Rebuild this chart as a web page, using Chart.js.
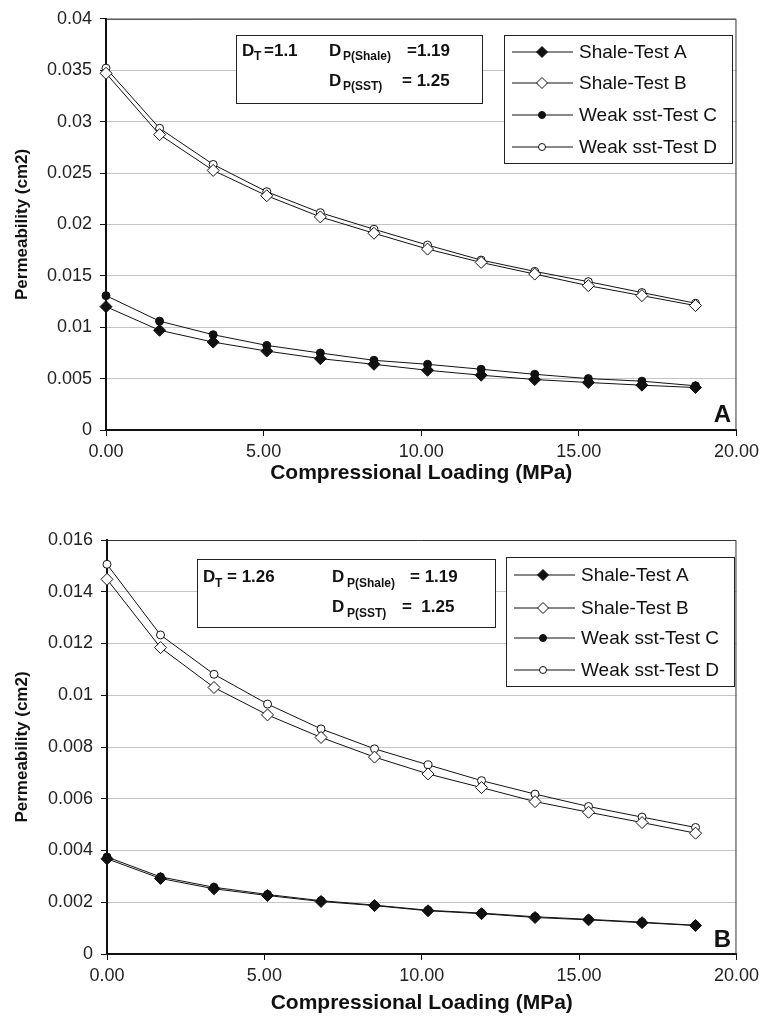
<!DOCTYPE html>
<html>
<head>
<meta charset="utf-8">
<script src="https://cdn.jsdelivr.net/npm/chart.js@4.4.1/dist/chart.umd.min.js"></script>
<style>
  html, body { margin: 0; padding: 0; background: #fff; }
  .panel { position: relative; width: 764px; height: 510px; }
</style>
</head>
<body>
<div class="panel"><canvas id="chartA" width="764" height="510"></canvas></div>
<div class="panel"><canvas id="chartB" width="764" height="510"></canvas></div>
<script>
// compressional loading (MPa), shared by both panels
const loading = [0, 1.7, 3.4, 5.1, 6.8, 8.5, 10.2, 11.9, 13.6, 15.3, 17.0, 18.7];
const seriesNames = ["Shale-Test A", "Shale-Test B", "Weak sst-Test C", "Weak sst-Test D"];

// panel A permeability (cm2)
const panelA_testA = [0.0120, 0.0097, 0.00855, 0.00768, 0.00694, 0.00639, 0.00581, 0.00533, 0.00491, 0.00462, 0.00436, 0.00413];
const panelA_testB = [0.0347, 0.02873, 0.02525, 0.02279, 0.02073, 0.01914, 0.0176, 0.0163, 0.01517, 0.01404, 0.01307, 0.0121];
const panelA_testC = [0.01307, 0.01059, 0.00927, 0.00823, 0.00749, 0.00678, 0.00639, 0.00591, 0.00542, 0.0050, 0.00475, 0.0043];
const panelA_testD = [0.0352, 0.02935, 0.02583, 0.02318, 0.02114, 0.01953, 0.01799, 0.01653, 0.01543, 0.01443, 0.01337, 0.01233];

// panel B permeability (cm2)
const panelB_testA = [0.00368, 0.00292, 0.00252, 0.00226, 0.00203, 0.00187, 0.00167, 0.00156, 0.00141, 0.00132, 0.00121, 0.0011];
const panelB_testB = [0.01448, 0.01184, 0.0103, 0.00924, 0.00837, 0.00761, 0.00696, 0.00643, 0.00589, 0.00548, 0.00508, 0.00467];
const panelB_testC = [0.00375, 0.00298, 0.00258, 0.0023, 0.00206, 0.00189, 0.00169, 0.00158, 0.00144, 0.00134, 0.00123, 0.00111];
const panelB_testD = [0.01506, 0.01233, 0.01081, 0.00966, 0.0087, 0.00793, 0.00731, 0.0067, 0.00618, 0.0057, 0.00529, 0.00489];

const xTicks = [0, 5, 10, 15, 20];

Chart.defaults.font.family = '"Liberation Sans", Arial, Helvetica, sans-serif';
Chart.defaults.color = "#222";

const FONT = '"Liberation Sans", Arial, Helvetica, sans-serif';

const markerStyles = [
  { pointStyle: "rectRot", fill: "#111", radius: 6, legendRadius: 5.5 },
  { pointStyle: "rectRot", fill: "#fff", radius: 6, legendRadius: 5.5 },
  { pointStyle: "circle", fill: "#111", radius: 4, legendRadius: 3.5 },
  { pointStyle: "circle", fill: "#fff", radius: 4, legendRadius: 3.5 },
];

function drawMarker(ctx, style, r, x, y) {
  ctx.beginPath();
  if (style === "rectRot") {
    ctx.moveTo(x, y - r);
    ctx.lineTo(x + r, y);
    ctx.lineTo(x, y + r);
    ctx.lineTo(x - r, y);
    ctx.closePath();
  } else {
    ctx.arc(x, y, r, 0, Math.PI * 2);
  }
  ctx.fill();
  ctx.stroke();
}

const boxesPlugin = {
  id: "boxes",
  afterDatasetsDraw(chart, args, opts) {
    const ctx = chart.ctx;
    const area = chart.chartArea;
    ctx.save();

    // top and right frame of the plot area
    ctx.strokeStyle = "#333";
    ctx.lineWidth = 1;
    ctx.beginPath();
    ctx.moveTo(area.left, area.top + 0.5);
    ctx.lineTo(area.right - 0.5, area.top + 0.5);
    ctx.lineTo(area.right - 0.5, area.bottom);
    ctx.stroke();

    // fractal dimension note
    const nb = opts.noteBox;
    ctx.fillStyle = "#fff";
    ctx.fillRect(nb.x, nb.y, nb.w, nb.h);
    ctx.strokeStyle = "#222";
    ctx.lineWidth = 1;
    ctx.strokeRect(nb.x + 0.5, nb.y + 0.5, nb.w, nb.h);
    ctx.fillStyle = "#111";
    ctx.textBaseline = "alphabetic";
    ctx.textAlign = "left";
    opts.notes.forEach((n) => {
      ctx.font = "bold " + (n.sub ? 12 : 17) + "px " + FONT;
      ctx.fillText(n.t, n.x, n.y);
    });

    // legend
    const lb = opts.legendBox;
    ctx.fillStyle = "#fff";
    ctx.fillRect(lb.x, lb.y, lb.w, lb.h);
    ctx.strokeStyle = "#222";
    ctx.strokeRect(lb.x + 0.5, lb.y + 0.5, lb.w, lb.h);
    chart.data.datasets.forEach((ds, i) => {
      const y = lb.rows[i];
      ctx.strokeStyle = ds.borderColor;
      ctx.lineWidth = 1;
      ctx.beginPath();
      ctx.moveTo(lb.lineX0, y);
      ctx.lineTo(lb.lineX1, y);
      ctx.stroke();
      ctx.fillStyle = ds.pointBackgroundColor;
      ctx.strokeStyle = "#111";
      drawMarker(ctx, ds.pointStyle, markerStyles[i].legendRadius, lb.markX, y);
      ctx.fillStyle = "#111";
      ctx.font = "19px " + FONT;
      ctx.textBaseline = "middle";
      ctx.fillText(ds.label, lb.textX, y + 1);
    });

    // panel letter
    ctx.font = "bold 24px " + FONT;
    ctx.textAlign = "right";
    ctx.textBaseline = "alphabetic";
    ctx.fillStyle = "#111";
    ctx.fillText(opts.letter.t, opts.letter.x, opts.letter.y);
    ctx.restore();
  },
};

function makeChart(id, series, opt) {
  const datasets = series.map((vals, i) => ({
    label: seriesNames[i],
    data: loading.map((x, j) => ({ x: x, y: vals[j] })),
    showLine: true,
    borderColor: "#111",
    borderWidth: 1,
    pointStyle: markerStyles[i].pointStyle,
    pointRadius: markerStyles[i].radius,
    pointBackgroundColor: markerStyles[i].fill,
    pointBorderColor: "#111",
    pointBorderWidth: 1,
    clip: false,
  }));

  return new Chart(document.getElementById(id), {
    type: "scatter",
    data: { datasets: datasets },
    plugins: [boxesPlugin],
    options: {
      responsive: false,
      animation: false,
      layout: { padding: { top: opt.top, right: opt.right, left: 0, bottom: 0 } },
      scales: {
        x: {
          type: "linear",
          min: 0,
          max: 20,
          afterBuildTicks: (s) => { s.ticks = xTicks.map((v) => ({ value: v })); },
          ticks: {
            callback: (v) => Number(v).toFixed(2),
            font: { size: 18 },
            color: "#222",
            padding: 5,
            maxRotation: 0,
            autoSkip: false,
          },
          grid: { drawOnChartArea: false, tickLength: 6, color: "#111", tickColor: "#111" },
          border: { color: "#111", width: 2 },
          title: {
            display: true,
            text: "Compressional Loading (MPa)",
            font: { size: 21, weight: "bold" },
            color: "#111",
            padding: { top: 0, bottom: opt.xTitlePad },
          },
          afterFit: (s) => { s.height = opt.xHeight; },
        },
        y: {
          type: "linear",
          min: 0,
          max: opt.yMax,
          ticks: {
            stepSize: opt.yStep,
            callback: (v) => String(+Number(v).toFixed(4)),
            font: { size: 18 },
            color: "#222",
            padding: 8,
          },
          grid: { color: "#c4c4c4", tickColor: "#111", tickLength: 6, lineWidth: 1 },
          border: { color: "#111", width: 2 },
          title: {
            display: true,
            text: "Permeability (cm2)",
            font: { size: 17, weight: "bold" },
            color: "#111",
            padding: { top: 12, bottom: 0 },
          },
          afterFit: (s) => { s.width = opt.yWidth; },
        },
      },
      plugins: {
        legend: { display: false },
        tooltip: { enabled: false },
        boxes: {
          noteBox: opt.noteBox,
          notes: opt.notes,
          legendBox: opt.legendBox,
          letter: opt.letter,
        },
      },
    },
  });
}

makeChart("chartA", [panelA_testA, panelA_testB, panelA_testC, panelA_testD], {
  top: 17, right: 27, yWidth: 106, xHeight: 80, xTitlePad: 24,
  yMax: 0.04, yStep: 0.005,
  noteBox: { x: 236, y: 35, w: 246, h: 68 },
  notes: [
    { t: "D", x: 242, y: 56 },
    { t: "T", x: 254, y: 60, sub: true },
    { t: "=1.1", x: 264, y: 56 },
    { t: "D", x: 329, y: 56 },
    { t: "P(Shale)", x: 343, y: 60, sub: true },
    { t: "=1.19", x: 407, y: 56 },
    { t: "D", x: 329, y: 86 },
    { t: "P(SST)", x: 343, y: 90, sub: true },
    { t: "= 1.25", x: 402, y: 86 },
  ],
  legendBox: { x: 504, y: 35, w: 228, h: 128, rows: [52, 83, 115, 147], lineX0: 512, lineX1: 573, markX: 542, textX: 579 },
  letter: { t: "A", x: 731, y: 422 },
});

makeChart("chartB", [panelB_testA, panelB_testB, panelB_testC, panelB_testD], {
  top: 30, right: 24, yWidth: 107, xHeight: 66, xTitlePad: 4,
  yMax: 0.016, yStep: 0.002,
  noteBox: { x: 197, y: 49, w: 298, h: 68 },
  notes: [
    { t: "D", x: 203, y: 72 },
    { t: "T", x: 215, y: 77, sub: true },
    { t: "= 1.26", x: 227, y: 72 },
    { t: "D", x: 332, y: 72 },
    { t: "P(Shale)", x: 347, y: 77, sub: true },
    { t: "= 1.19", x: 410, y: 72 },
    { t: "D", x: 332, y: 102 },
    { t: "P(SST)", x: 347, y: 107, sub: true },
    { t: "=  1.25", x: 402, y: 102 },
  ],
  legendBox: { x: 506, y: 47, w: 228, h: 129, rows: [65, 98, 128, 160], lineX0: 514, lineX1: 575, markX: 543, textX: 581 },
  letter: { t: "B", x: 731, y: 437 },
});
</script>
</body>
</html>
